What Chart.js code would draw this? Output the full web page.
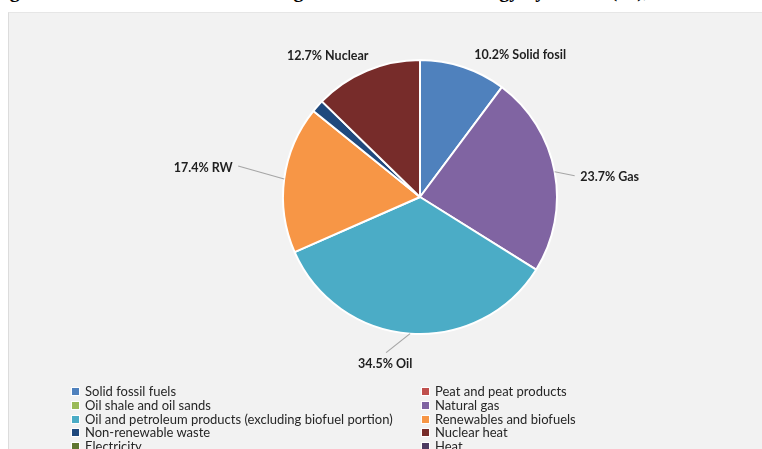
<!DOCTYPE html>
<html>
<head>
<meta charset="utf-8">
<script src="https://cdn.jsdelivr.net/npm/chart.js@4.4.1/dist/chart.umd.min.js"></script>
<style>
  html, body { margin: 0; padding: 0; background: #fff; overflow: hidden; }
  body { width: 762px; height: 449px; position: relative; }
  #title {
    position: absolute; left: -8px; top: -21px; white-space: nowrap;
    font: bold 20px "Liberation Serif", serif; color: #000;
  }
  #box {
    position: absolute; left: 8px; top: 12px; width: 760px; height: 445px;
    background: #f2f2f2; border-left: 1px solid #dcdcdc; border-top: 1px solid #e6e6e6;
  }
  #bieudo { position: absolute; left: 0; top: 0; }
  #chuthich {
    position: absolute; left: 62px; top: 372px;
    display: grid; grid-template-columns: 350px 300px; row-gap: 0;
    font: 13px Lato, sans-serif; color: #262626;
  }
  #chuthich div { height: 13.8px; line-height: 13.8px; white-space: nowrap; }
  #chuthich span {
    display: inline-block; width: 7px; height: 7px; margin-right: 5px;
    border: 1px solid #fff; vertical-align: 0px;
  }
</style>
</head>
<body>
<div id="title">Figure 2: Share of fuels in the total gross national final energy by source (%), 2020</div>
<div id="box">
  <canvas id="bieudo" width="754" height="437"></canvas>
  <div id="chuthich"></div>
</div>
<script>
const nhom = [
  'Solid fossil fuels',
  'Peat and peat products',
  'Oil shale and oil sands',
  'Natural gas',
  'Oil and petroleum products (excluding biofuel portion)',
  'Renewables and biofuels',
  'Non-renewable waste',
  'Nuclear heat',
  'Electricity',
  'Heat'
];
const tyle = [10.2, 0, 0, 23.7, 34.5, 17.4, 1.5, 12.7, 0, 0];
const nhan = ['Solid fosil', '', '', 'Gas', 'Oil', 'RW', '', 'Nuclear', '', ''];
const mau = [
  '#4f81bd', '#c0504d', '#9bbb59', '#8064a2', '#4bacc6',
  '#f79646', '#1f497d', '#772c2a', '#5f7530', '#4d3b62'
];

// where each data label sits relative to the slice edge, and an optional leader line end
const vitri = {
  0: { dx: 57, dy: -12 },
  3: { dx: 55, dy: 5, line: [20, 4] },
  4: { dx: -25, dy: 30, line: [-24, 19] },
  5: { dx: -81, dy: -11, line: [-46, -13] },
  7: { dx: -39, dy: -15 }
};

const nhanPlugin = {
  id: 'nhanPlugin',
  afterDatasetsDraw(chart) {
    const ctx = chart.ctx;
    const meta = chart.getDatasetMeta(0);
    ctx.save();
    ctx.font = 'bold 12.5px Lato, sans-serif';
    ctx.textAlign = 'center';
    ctx.textBaseline = 'middle';
    meta.data.forEach((arc, i) => {
      const v = vitri[i];
      if (!v || !nhan[i]) return;
      const p = arc.getProps(['x', 'y', 'startAngle', 'endAngle', 'outerRadius'], true);
      const mid = (p.startAngle + p.endAngle) / 2;
      const ex = p.x + Math.cos(mid) * p.outerRadius;
      const ey = p.y + Math.sin(mid) * p.outerRadius;
      if (v.line) {
        ctx.strokeStyle = '#a6a6a6';
        ctx.lineWidth = 1.2;
        ctx.beginPath();
        ctx.moveTo(ex, ey);
        ctx.lineTo(ex + v.line[0], ey + v.line[1]);
        ctx.stroke();
      }
      ctx.fillStyle = '#1f1f1f';
      ctx.fillText(tyle[i].toFixed(1) + '% ' + nhan[i], ex + v.dx, ey + v.dy);
    });
    ctx.restore();
  }
};

const bieudo = new Chart(document.getElementById('bieudo'), {
  type: 'pie',
  data: {
    labels: nhom,
    datasets: [{
      data: tyle,
      backgroundColor: mau,
      borderColor: '#ffffff',
      borderWidth: 2,
      radius: 137
    }]
  },
  options: {
    responsive: false,
    animation: false,
    layout: { padding: { left: 68, right: 0, top: 0, bottom: 69 } },
    plugins: {
      legend: { display: false },
      tooltip: { enabled: false }
    }
  },
  plugins: [nhanPlugin]
});

// two-column legend under the pie
const chuthich = document.getElementById('chuthich');
nhom.forEach((ten, i) => {
  const d = document.createElement('div');
  const o = document.createElement('span');
  o.style.background = mau[i];
  d.appendChild(o);
  d.appendChild(document.createTextNode(ten));
  chuthich.appendChild(d);
});
</script>
</body>
</html>
